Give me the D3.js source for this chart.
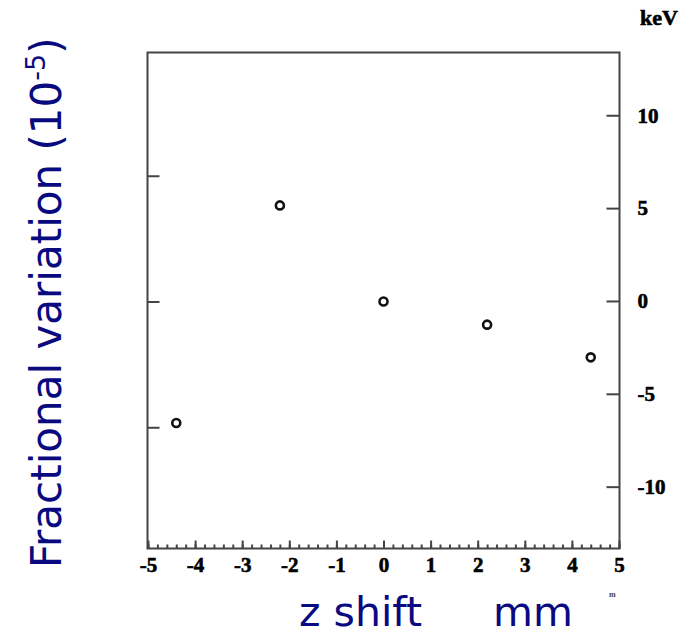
<!DOCTYPE html>
<html>
<head>
<meta charset="utf-8">
<script src="https://cdn.jsdelivr.net/npm/d3@7"></script>
<style>
  body{margin:0;background:#fff;}
  .tick text{font-family:"Liberation Serif","Times New Roman",serif;font-weight:bold;font-size:21px;fill:#000;stroke:#000;stroke-width:0.6px;}
  .tick line{stroke:#444;stroke-width:2;}
  .title{font-family:"DejaVu Sans",sans-serif;fill:#0a0a80;font-size:41px;}
</style>
</head>
<body>
<div id="chart"></div>
<script>
// z shift (mm) and fractional variation (10^-5)
const zShift   = [-4.4, -2.2, 0, 2.2, 4.4]
const fracVar  = [-4.83, 3.82, 0, -0.92, -2.22]
const xTicks   = [-5,-4,-3,-2,-1,0,1,2,3,4,5]
const leftTicks  = [-5, 0, 5]
const rightTicks = [10, 5, 0, -5, -10]

const data = zShift.map((z,i)=>({z:z, v:fracVar[i]}))

let width = 700,
    height = 636,
    margin = {top:52.5, left:147.5, right:80.5, bottom:87.5},
    innerW = width - margin.left - margin.right,
    innerH = height - margin.top - margin.bottom

const svg = d3.select("#chart").append("svg")
              .attr("width",width).attr("height",height)
const g = svg.append("g").attr("transform",`translate(${margin.left},${margin.top})`)

const x = d3.scaleLinear().domain([-5,5]).range([0.5,innerW-0.5])
const y = d3.scaleLinear().domain([-9.82,9.9]).range([innerH,0])
const yKeV = d3.scaleLinear().domain([-13.33,13.38]).range([innerH,0])

// minor ticks on x
const xMinor = d3.axisBottom(x).tickValues(d3.range(-50,51,2).map(d=>d/10)).tickSize(-4).tickFormat("")
g.append("g").attr("transform",`translate(0,${innerH})`).call(xMinor)
  .call(s=>s.select(".domain").remove())
  .selectAll("line").attr("stroke-width",1.5)

const xAxis = d3.axisBottom(x).tickValues(xTicks).tickSize(-8).tickPadding(9).tickFormat(d=>String(d))
g.append("g").attr("transform",`translate(0,${innerH})`).call(xAxis)
  .call(s=>s.select(".domain").remove())

const yAxis = d3.axisLeft(y).tickValues(leftTicks).tickSize(-12).tickFormat("")
g.append("g").call(yAxis).call(s=>s.select(".domain").remove())

const yAxisR = d3.axisRight(yKeV).tickValues(rightTicks).tickSize(-13).tickPadding(18).tickFormat(d=>String(d))
g.append("g").attr("transform",`translate(${innerW},0)`).call(yAxisR)
  .call(s=>s.select(".domain").remove())

// frame
g.append("rect").attr("x",0).attr("y",0).attr("width",innerW).attr("height",innerH)
  .attr("fill","none").attr("stroke","#444").attr("stroke-width",2)

g.selectAll("circle.pt").data(data).enter().append("circle")
  .attr("class","pt")
  .attr("cx",d=>x(d.z))
  .attr("cy",d=>y(d.v))
  .attr("r",4)
  .attr("fill","#fff")
  .attr("stroke","#111")
  .attr("stroke-width",2.6)

// unit labels
svg.append("text").attr("x",640).attr("y",25).text("keV")
  .style("font-family","Liberation Serif, serif").style("font-weight","bold").style("font-size","22px")
  .attr("stroke","#000").attr("stroke-width",0.6)
svg.append("text").attr("x",609).attr("y",597).text("m")
  .style("font-family","Liberation Serif, serif").style("font-weight","bold").style("font-size","8px").attr("fill","#444")

// titles
svg.append("text").attr("class","title").attr("x",299).attr("y",626).text("z shift")
svg.append("text").attr("class","title").attr("x",493).attr("y",626).text("mm")

const yt = svg.append("text").attr("class","title")
  .style("font-size","42px")
  .attr("transform","translate(61,568) rotate(-90)")
yt.append("tspan").text("Fractional variation (10")
yt.append("tspan").attr("dy",-16).style("font-size","27px").text("-5")
yt.append("tspan").attr("dy",16).text(")")
</script>
</body>
</html>
